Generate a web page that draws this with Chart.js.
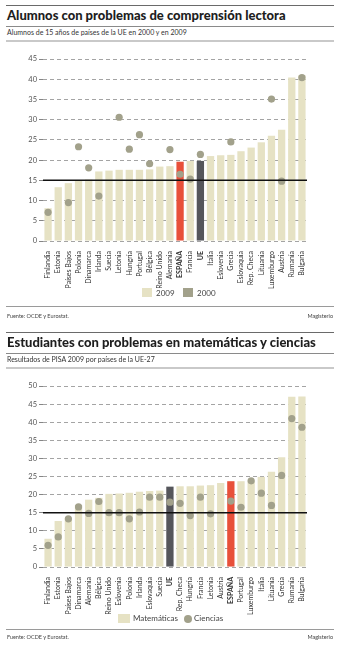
<!DOCTYPE html>
<html>
<head>
<meta charset="utf-8">
<script src="https://cdn.jsdelivr.net/npm/chart.js@4"></script>
<style>
  body { margin: 0; background: #fff; font-family: Lato, "Open Sans", sans-serif; color: #222; }
  #page { position: relative; width: 338px; height: 650px; overflow: hidden; }
  .rule { position: absolute; left: 6px; width: 328px; }
  .title { position: absolute; left: 7px; font-weight: 900; font-size: 13px; line-height: 15px; color: #1e1e1e; white-space: nowrap; }
  .sub { position: absolute; left: 7px; font-size: 7px; line-height: 9px; color: #333; white-space: nowrap; }
  .src { position: absolute; font-size: 5.5px; line-height: 7px; color: #444; white-space: nowrap; }
  .legend { position: absolute; font-size: 8px; line-height: 10px; color: #444; white-space: nowrap; }
  .sw { position: absolute; }
  canvas { position: absolute; left: 0; }
</style>
</head>
<body>
<div id="page">
  <!-- grafico 1 -->
  <div class="rule" style="top:5px;height:1px;background:#6a6a6a"></div>
  <div class="title" style="top:8px">Alumnos con problemas de comprensión lectora</div>
  <div class="rule" style="top:26px;height:1px;background:#8a8a8a"></div>
  <div class="sub" style="top:28px">Alumnos de 15 años de países de la UE en 2000 y en 2009</div>
  <div class="rule" style="top:40px;height:2px;background:#c9c9c9"></div>
  <canvas id="chart1" width="338" height="241" style="top:45px"></canvas>
  <div class="sw" style="left:142px;top:288px;width:10px;height:9px;background:#e6e2c4"></div>
  <div class="legend" style="left:156px;top:288px">2009</div>
  <div class="sw" style="left:183px;top:288px;width:10px;height:9px;background:#a2a18b"></div>
  <div class="legend" style="left:197px;top:288px">2000</div>
  <div class="rule" style="top:306px;height:1px;background:#9a9a9a"></div>
  <div class="src" style="left:7px;top:313px">Fuente: OCDE y Eurostat.</div>
  <div class="src" style="right:5px;top:313px">Magisterio</div>

  <!-- grafico 2 -->
  <div class="rule" style="top:332px;height:1px;background:#6a6a6a"></div>
  <div class="title" style="top:335px">Estudiantes con problemas en matemáticas y ciencias</div>
  <div class="rule" style="top:353px;height:1px;background:#8a8a8a"></div>
  <div class="sub" style="top:355px">Resultados de PISA 2009 por países de la UE-27</div>
  <div class="rule" style="top:367px;height:2px;background:#c9c9c9"></div>
  <canvas id="chart2" width="338" height="240" style="top:372px"></canvas>
  <div class="sw" style="left:118px;top:614px;width:12px;height:9px;background:#e6e2c4"></div>
  <div class="legend" style="left:133px;top:613px">Matemáticas</div>
  <div class="sw" style="left:184px;top:615px;width:8px;height:8px;border-radius:50%;background:#a2a18b"></div>
  <div class="legend" style="left:194px;top:613px">Ciencias</div>
  <div class="rule" style="top:629px;height:1px;background:#9a9a9a"></div>
  <div class="src" style="left:7px;top:634px">Fuente: OCDE y Eurostat.</div>
  <div class="src" style="right:5px;top:634px">Magisterio</div>
</div>

<script>
// --- datos grafico 1: comprension lectora (%) ---
const paises1 = ['Finlandia', 'Estonia', 'Países Bajos', 'Polonia', 'Dinamarca', 'Irlanda', 'Suecia',
    'Letonia', 'Hungría', 'Portugal', 'Bélgica', 'Reino Unido', 'Alemania', 'ESPAÑA', 'Francia', 'UE',
    'Italia', 'Eslovenia', 'Grecia', 'Eslovaquia', 'Rep. Checa', 'Lituania', 'Luxemburgo', 'Austria',
    'Rumanía', 'Bulgaria'];
const lectura2009 = [8.1, 13.3, 14.3, 15.0, 15.2, 17.2, 17.4, 17.6, 17.6, 17.6, 17.7, 18.4, 18.5, 19.6,
    19.8, 19.8, 21.0, 21.2, 21.3, 22.2, 23.1, 24.4, 26.0, 27.5, 40.4, 41.0];
const lectura2000 = [7.1, null, 9.5, 23.3, 18.1, 11.1, null, 30.6, 22.7, 26.3, 19.1, null, 22.6, 16.5,
    15.3, 21.4, null, null, 24.5, null, null, null, 35.1, 14.8, null, 40.4];
const ticks1 = [0, 5, 10, 15, 20, 25, 30, 35, 40, 45];

// --- datos grafico 2: matematicas y ciencias (%) ---
const paises2 = ['Finlandia', 'Estonia', 'Países Bajos', 'Dinamarca', 'Alemania', 'Bélgica', 'Reino Unido',
    'Eslovenia', 'Polonia', 'Irlanda', 'Eslovaquia', 'Suecia', 'UE', 'Rep. Checa', 'Hungría', 'Francia',
    'Letonia', 'Austria', 'ESPAÑA', 'Portugal', 'Luxemburgo', 'Italia', 'Lituania', 'Grecia', 'Rumanía',
    'Bulgaria'];
const matematicas = [7.8, 12.7, 13.4, 17.1, 18.6, 19.1, 20.2, 20.3, 20.5, 20.8, 21.0, 21.1, 22.2, 22.3,
    22.3, 22.5, 22.6, 23.2, 23.7, 23.7, 23.9, 24.9, 26.3, 30.3, 47.0, 47.1];
const ciencias = [6.0, 8.3, 13.3, 16.6, 14.8, 18.1, 15.0, 15.0, 13.3, 15.2, 19.3, 19.3, 17.9, 17.6,
    14.2, 19.3, 14.7, null, 18.2, 16.5, 23.8, 20.4, 17.0, 25.3, 41.0, 38.6];
const ticks2 = [0, 5, 10, 15, 20, 25, 30, 35, 40, 45, 50];

const umbral = 15;   // linea negra de referencia

const colorBarra = '#e6e2c4';
const colorEspana = '#e8503a';
const colorUE = '#55565b';
const colorPunto = '#a2a18b';

function coloresBarras(labels) {
    return labels.map(function (l) {
        if (l === 'ESPAÑA') return colorEspana;
        if (l === 'UE') return colorUE;
        return colorBarra;
    });
}

// linea negra en el 15
const lineaUmbral = {
    id: 'lineaUmbral',
    afterDatasetsDraw(chart) {
        const y = chart.scales.y.getPixelForValue(umbral);
        const area = chart.chartArea;
        const ctx = chart.ctx;
        ctx.save();
        ctx.strokeStyle = '#111';
        ctx.lineWidth = 1.5;
        ctx.beginPath();
        ctx.moveTo(area.left, y);
        ctx.lineTo(area.right, y);
        ctx.stroke();
        ctx.restore();
    }
};

function crearGrafico(id, labels, barras, puntos, ticks, nombreBarras, nombrePuntos) {
    const canvas = document.getElementById(id);
    // area de grafico fija, el resto del lienzo queda para los nombres de paises
    const alto = canvas.height;
    canvas.height = alto + 16;
    const ctx = canvas.getContext('2d');
    return new Chart(ctx, {
        type: 'bar',
        data: {
            labels: labels,
            datasets: [{
                type: 'line',
                label: nombrePuntos,
                data: puntos,
                showLine: false,
                pointRadius: 3.6,
                pointHoverRadius: 3.6,
                pointBackgroundColor: colorPunto,
                pointBorderWidth: 0,
                order: 0
            }, {
                type: 'bar',
                label: nombreBarras,
                data: barras,
                backgroundColor: coloresBarras(labels),
                borderWidth: 0,
                barPercentage: 0.72,
                categoryPercentage: 1,
                order: 1
            }]
        },
        options: {
            responsive: false,
            animation: false,
            layout: { padding: { top: 14, right: 31, left: 0, bottom: 0 } },
            plugins: { legend: { display: false }, tooltip: { enabled: false } },
            scales: {
                x: {
                    grid: { display: false },
                    border: { display: false },
                    afterFit: function (scale) { scale.height = 61; },
                    ticks: {
                        autoSkip: false,
                        maxRotation: 90,
                        minRotation: 90,
                        padding: 2,
                        color: '#333',
                        font: function (c) {
                            const l = labels[c.index];
                            const fuerte = (l === 'ESPAÑA' || l === 'UE');
                            return { family: 'Lato', size: 7, weight: fuerte ? 'bold' : 'normal' };
                        }
                    }
                },
                y: {
                    min: ticks[0],
                    max: ticks[ticks.length - 1],
                    afterFit: function (scale) { scale.width = 43; },
                    afterBuildTicks: function (scale) {
                        scale.ticks = ticks.map(function (v) { return { value: v }; });
                    },
                    border: { display: false, dash: [4, 3] },
                    grid: {
                        color: '#9a9a9a',
                        lineWidth: 0.9,
                        tickLength: 4,
                        tickColor: '#777'
                    },
                    ticks: {
                        padding: 2,
                        color: '#555',
                        font: { family: 'Lato', size: 7.5 }
                    }
                }
            }
        },
        plugins: [lineaUmbral]
    });
}

crearGrafico('chart1', paises1, lectura2009, lectura2000, ticks1, '2009', '2000');
crearGrafico('chart2', paises2, matematicas, ciencias, ticks2, 'Matemáticas', 'Ciencias');
</script>
</body>
</html>
